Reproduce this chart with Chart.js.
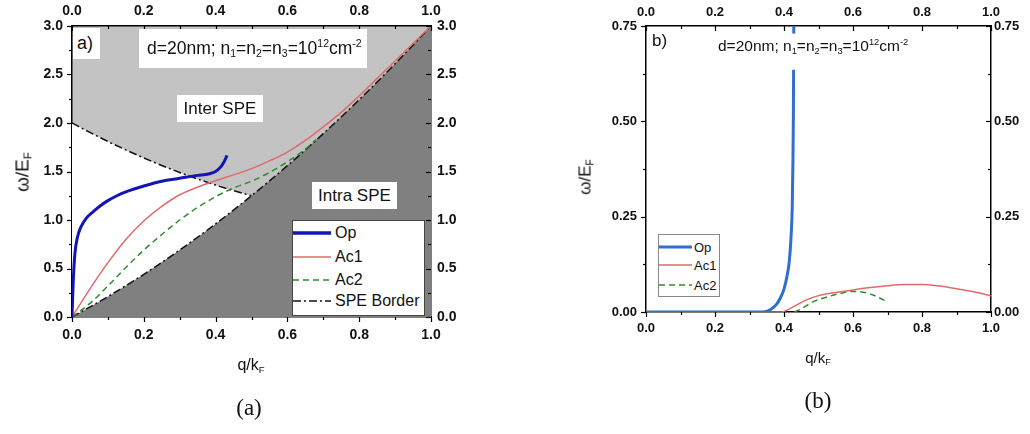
<!DOCTYPE html>
<html><head><meta charset="utf-8">
<script src="https://cdn.jsdelivr.net/npm/chart.js@4.4.1/dist/chart.umd.min.js"></script>
<style>
body{margin:0;background:#fff;font-family:'Liberation Sans',Arial,sans-serif;color:#111}
#wrap{position:relative;width:1030px;height:434px;overflow:hidden;background:#fff}
canvas{position:absolute;top:0}
.t{position:absolute;white-space:nowrap;line-height:1}
.box{position:absolute;background:#fff;box-sizing:border-box;white-space:nowrap}
sub{font-size:0.6em;vertical-align:-0.3em;line-height:0}
sup{font-size:0.6em;vertical-align:0.7em;line-height:0}
.rot{transform:translate(-50%,-50%) rotate(-90deg)}
.ctr{transform:translate(-50%,-50%)}
.leg{position:absolute;background:#fff;box-sizing:border-box}
.row{position:absolute;left:0;display:flex;align-items:center;height:20px}
.row svg{display:block}
</style></head>
<body>
<div id="wrap">
  <canvas id="ca" width="515" height="434" style="left:0"></canvas>
  <canvas id="cb" width="515" height="434" style="left:515px"></canvas>

  <!-- panel (a) annotations -->
  <div class="box" style="left:73px;top:28px;width:27px;height:31px;font-size:18px;line-height:31px;padding-left:4px">a)</div>
  <div class="box" style="left:139px;top:29px;width:228px;height:39px;font-size:17.5px;line-height:39px;padding-left:8px">d=20nm; n<sub>1</sub>=n<sub>2</sub>=n<sub>3</sub>=10<sup>12</sup>cm<sup>-2</sup></div>
  <div class="box" style="left:177px;top:95px;width:86px;height:27px;font-size:17px;line-height:27px;text-align:center">Inter SPE</div>
  <div class="box" style="left:312px;top:182px;width:85px;height:27px;font-size:17px;line-height:27px;text-align:center">Intra SPE</div>
  <div class="leg" id="legA" style="left:292px;top:220px;width:133px;height:96px;border:1px solid #444;font-size:16px"></div>
  <div class="t rot" style="left:22px;top:172px;font-size:19px">ω/E<sub>F</sub></div>
  <div class="t ctr" style="left:251px;top:365px;font-size:16px">q/k<sub>F</sub></div>
  <div class="t ctr" style="left:249px;top:407px;font-size:23px;font-family:'Liberation Serif','Times New Roman',serif">(a)</div>

  <!-- panel (b) annotations -->
  <div class="t" style="left:652px;top:32px;font-size:17px">b)</div>
  <div class="t" style="left:718px;top:38px;font-size:15.5px">d=20nm; n<sub>1</sub>=n<sub>2</sub>=n<sub>3</sub>=10<sup>12</sup>cm<sup>-2</sup></div>
  <div class="leg" id="legB" style="left:658px;top:234px;width:62px;height:63px;border:1px solid #888;font-size:13px"></div>
  <div class="t rot" style="left:585px;top:177px;font-size:17px">ω/E<sub>F</sub></div>
  <div class="t ctr" style="left:818px;top:357px;font-size:15px">q/k<sub>F</sub></div>
  <div class="t ctr" style="left:818px;top:400px;font-size:23px;font-family:'Liberation Serif','Times New Roman',serif">(b)</div>
</div>
<script>
// ---------- tick labels ----------
const qTickLabels = ['0.0','0.2','0.4','0.6','0.8','1.0'];
const wTickLabelsA = ['0.0','0.5','1.0','1.5','2.0','2.5','3.0'];
const wTickLabelsB = ['0.00','0.25','0.50','0.75'];

// ---------- panel (a) data ----------
const opA_q  = [0, 0.003, 0.008, 0.015, 0.025, 0.04, 0.06, 0.08, 0.10, 0.125, 0.15, 0.20, 0.25, 0.30, 0.35, 0.38, 0.40, 0.415, 0.425, 0.432];
const opA_w  = [0, 0.33, 0.65, 0.82, 0.93, 1.02, 1.09, 1.15, 1.20, 1.25, 1.29, 1.35, 1.40, 1.43, 1.46, 1.475, 1.50, 1.55, 1.61, 1.667];
const ac1A_q = [0, 0.05, 0.10, 0.15, 0.20, 0.25, 0.30, 0.35, 0.40, 0.45, 0.50, 0.55, 0.60, 0.65, 0.70, 0.75, 0.80, 0.85, 0.90, 0.95, 1.00];
const ac1A_w = [0, 0.29, 0.56, 0.80, 0.99, 1.14, 1.26, 1.34, 1.405, 1.465, 1.53, 1.61, 1.70, 1.82, 1.96, 2.11, 2.28, 2.46, 2.64, 2.82, 3.0];
const ac2A_q = [0, 0.05, 0.10, 0.15, 0.20, 0.25, 0.30, 0.35, 0.40, 0.45, 0.50, 0.55, 0.60, 0.65, 0.68];
const ac2A_w = [0, 0.14, 0.32, 0.51, 0.69, 0.85, 1.00, 1.13, 1.24, 1.33, 1.40, 1.49, 1.60, 1.73, 1.83];
const interBorder_q = [0, 0.05, 0.10, 0.15, 0.20, 0.25, 0.30, 0.35, 0.40, 0.45, 0.50];
const interBorder_w = [2.0, 1.9025, 1.81, 1.7225, 1.64, 1.5625, 1.49, 1.4225, 1.36, 1.3025, 1.25];
const intraBorder_q = [0, 0.1, 0.2, 0.3, 0.4, 0.5, 0.6, 0.7, 0.8, 0.9, 1.0];
const intraBorder_w = [0, 0.21, 0.44, 0.69, 0.96, 1.25, 1.56, 1.89, 2.24, 2.61, 3.0];

// ---------- panel (b) data ----------
const opB_q  = [0, 0.10, 0.20, 0.30, 0.34, 0.36, 0.38, 0.39, 0.40, 0.41, 0.415, 0.42, 0.424, 0.426, 0.4272, 0.4278, 0.428, 0.4283, 0.4286];
const opB_w  = [0, 0, 0, 0, 0, 0.006, 0.022, 0.038, 0.06, 0.10, 0.13, 0.19, 0.28, 0.40, 0.52, 0.635, null, 0.73, 0.80];
const ac1B_q = [0, 0.30, 0.39, 0.42, 0.44, 0.46, 0.50, 0.55, 0.60, 0.65, 0.70, 0.75, 0.80, 0.85, 0.90, 0.95, 1.00];
const ac1B_w = [0, 0, 0, 0.010, 0.020, 0.030, 0.043, 0.051, 0.058, 0.064, 0.069, 0.072, 0.072, 0.068, 0.061, 0.053, 0.042];
const ac2B_q = [0.43, 0.45, 0.48, 0.52, 0.56, 0.60, 0.63, 0.66, 0.70];
const ac2B_w = [0, 0.008, 0.025, 0.038, 0.048, 0.054, 0.052, 0.044, 0.026];

// ---------- styles ----------
const C_OP_A = '#1414b8', C_OP_B = '#2f6fce', C_AC1 = '#e06a6a', C_AC2 = '#2e8b2e';
const DASH_AC2 = [6, 4], DASH_SPE = [8, 3, 2, 3];

function pts(qs, ws) { return qs.map((q, i) => ({ x: q, y: ws[i] })); }

Chart.defaults.font.family = "'Liberation Sans', Arial, sans-serif";
Chart.defaults.color = '#111';

const bgPlugin = {
  id: 'areaBg',
  beforeDraw(chart, args, opts) {
    if (!opts || !opts.color) return;
    const a = chart.chartArea, c = chart.ctx;
    c.save(); c.fillStyle = opts.color; c.fillRect(a.left, a.top, a.right - a.left, a.bottom - a.top); c.restore();
  }
};
const tickPlugin = {
  id: 'frameTicks',
  afterDraw(chart) {
    const c = chart.ctx, a = chart.chartArea;
    c.save(); c.strokeStyle = '#000'; c.lineWidth = 1.2;
    for (const id of ['x', 'x2', 'y', 'y2']) {
      const s = chart.scales[id]; if (!s) continue;
      const vals = s.ticks.map(t => t.value);
      const list = [];
      vals.forEach((v, i) => { list.push([v, 5]); if (i < vals.length - 1) list.push([(v + vals[i + 1]) / 2, 3]); });
      for (const [v, len] of list) {
        const p = Math.round(s.getPixelForValue(v)) + 0.5;
        c.beginPath();
        if (id === 'x') { c.moveTo(p, a.bottom); c.lineTo(p, a.bottom + len); }
        else if (id === 'x2') { c.moveTo(p, a.top); c.lineTo(p, a.top + len); }
        else if (id === 'y') { c.moveTo(a.left, p); c.lineTo(a.left - len, p); }
        else { c.moveTo(a.right, p); c.lineTo(a.right - len, p); }
        c.stroke();
      }
    }
    c.restore();
  }
};

function scale(pos, min, max, step, labels, pad, size, fsize) {
  const horiz = pos === 'top' || pos === 'bottom';
  return {
    type: 'linear', position: pos, min, max, z: 1,
    grid: { display: false, drawTicks: false },
    border: { display: true, color: '#000', width: 1.5 },
    ticks: {
      stepSize: step, padding: pad, color: '#111',
      font: { size: fsize, weight: 'bold' },
      callback: v => labels[Math.round((v - min) / step)]
    },
    afterFit: s => { if (horiz) s.height = size; else s.width = size; }
  };
}
function line(label, data, color, width, dash, order) {
  return { label, data, borderColor: color, borderWidth: width, borderDash: dash || [],
    pointRadius: 0, fill: false, cubicInterpolationMode: 'monotone', order };
}

// ---------- chart (a) ----------
new Chart(document.getElementById('ca'), {
  type: 'line',
  data: { datasets: [
    line('Op', pts(opA_q, opA_w), C_OP_A, 3, null, 0),
    line('Ac1', pts(ac1A_q, ac1A_w), C_AC1, 1.5, null, 1),
    line('Ac2', pts(ac2A_q, ac2A_w), C_AC2, 1.5, DASH_AC2, 2),
    Object.assign(line('SPE Border', pts(intraBorder_q, intraBorder_w), '#111', 1.5, DASH_SPE, 8),
      { fill: 'origin', backgroundColor: '#808080' }),
    Object.assign(line('SPE Border (inter)', pts(interBorder_q, interBorder_w), '#111', 1.5, DASH_SPE, 9),
      { fill: 'origin', backgroundColor: '#ffffff' })
  ]},
  options: {
    responsive: false, animation: false, events: [],
    layout: { padding: 0 },
    plugins: { legend: { display: false }, tooltip: { enabled: false }, areaBg: { color: '#c3c3c3' } },
    scales: {
      x: scale('bottom', 0, 1, 0.2, qTickLabels, 10, 117, 14),
      x2: scale('top', 0, 1, 0.2, qTickLabels, 6, 26, 14),
      y: scale('left', 0, 3, 0.5, wTickLabelsA, 9, 72, 14),
      y2: scale('right', 0, 3, 0.5, wTickLabelsA, 6, 84, 14)
    }
  },
  plugins: [bgPlugin, tickPlugin]
});

// ---------- chart (b) ----------
new Chart(document.getElementById('cb'), {
  type: 'line',
  data: { datasets: [
    line('Op', pts(opB_q, opB_w), C_OP_B, 3, null, 0),
    line('Ac1', pts(ac1B_q, ac1B_w), C_AC1, 1.5, null, 1),
    line('Ac2', pts(ac2B_q, ac2B_w), C_AC2, 1.5, DASH_AC2, 2)
  ]},
  options: {
    responsive: false, animation: false, events: [],
    layout: { padding: 0 },
    plugins: { legend: { display: false }, tooltip: { enabled: false } },
    scales: {
      x: scale('bottom', 0, 1, 0.2, qTickLabels, 9, 122, 13),
      x2: scale('top', 0, 1, 0.2, qTickLabels, 6, 26, 13),
      y: scale('left', 0, 0.75, 0.25, wTickLabelsB, 9, 131, 13),
      y2: scale('right', 0, 0.75, 0.25, wTickLabelsB, 3, 39, 13)
    }
  },
  plugins: [tickPlugin]
});

// ---------- HTML legends ----------
function legend(el, items, rowTops, sampleW, gap) {
  items.forEach((it, i) => {
    const r = document.createElement('div');
    r.className = 'row'; r.style.top = (rowTops[i] - 10) + 'px';
    const dash = it.dash ? `stroke-dasharray="${it.dash.join(' ')}"` : '';
    r.innerHTML = `<svg width="${sampleW}" height="8"><line x1="0" y1="4" x2="${sampleW}" y2="4" stroke="${it.color}" stroke-width="${it.w}" ${dash}/></svg><span style="margin-left:${gap}px">${it.label}</span>`;
    el.appendChild(r);
  });
}
legend(document.getElementById('legA'), [
  { label: 'Op', color: C_OP_A, w: 3.5 },
  { label: 'Ac1', color: C_AC1, w: 1.5 },
  { label: 'Ac2', color: C_AC2, w: 1.5, dash: DASH_AC2 },
  { label: 'SPE Border', color: '#111', w: 1.5, dash: DASH_SPE }
], [12, 36, 59, 80], 38, 4);
legend(document.getElementById('legB'), [
  { label: 'Op', color: C_OP_B, w: 3 },
  { label: 'Ac1', color: C_AC1, w: 1.5 },
  { label: 'Ac2', color: C_AC2, w: 1.5, dash: DASH_AC2 }
], [12, 30, 50], 33, 2);
</script>
</body></html>
